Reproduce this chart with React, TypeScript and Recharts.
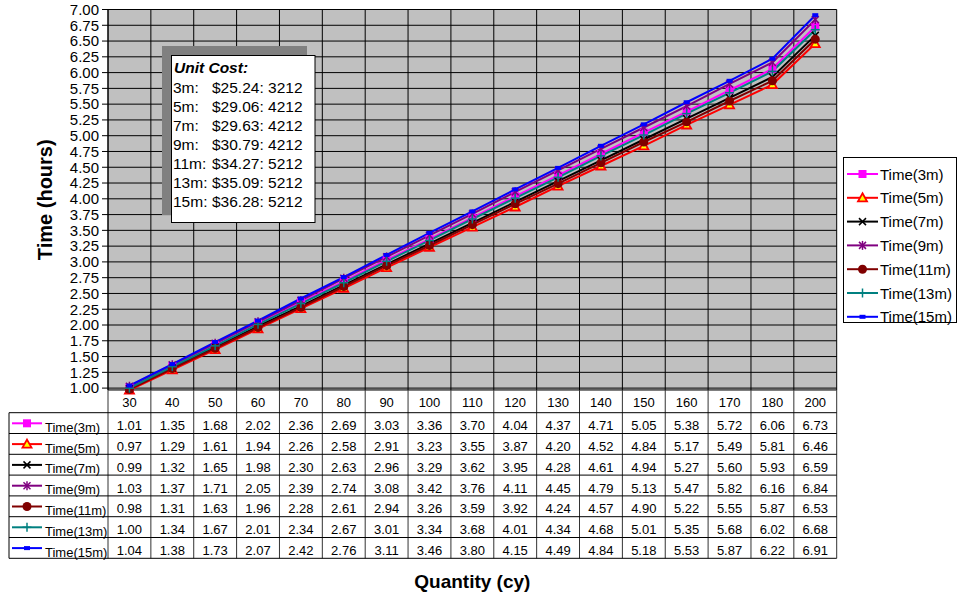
import React from 'react'
import {
  CartesianGrid, Line, LineChart, XAxis, YAxis,
} from 'recharts'

const categories = ['30', '40', '50', '60', '70', '80', '90', '100', '110', '120', '130', '140', '150', '160', '170', '180', '200']

const time3m = [1.01, 1.35, 1.68, 2.02, 2.36, 2.69, 3.03, 3.36, 3.70, 4.04, 4.37, 4.71, 5.05, 5.38, 5.72, 6.06, 6.73]
const time5m = [0.97, 1.29, 1.61, 1.94, 2.26, 2.58, 2.91, 3.23, 3.55, 3.87, 4.20, 4.52, 4.84, 5.17, 5.49, 5.81, 6.46]
const time7m = [0.99, 1.32, 1.65, 1.98, 2.30, 2.63, 2.96, 3.29, 3.62, 3.95, 4.28, 4.61, 4.94, 5.27, 5.60, 5.93, 6.59]
const time9m = [1.03, 1.37, 1.71, 2.05, 2.39, 2.74, 3.08, 3.42, 3.76, 4.11, 4.45, 4.79, 5.13, 5.47, 5.82, 6.16, 6.84]
const time11m = [0.98, 1.31, 1.63, 1.96, 2.28, 2.61, 2.94, 3.26, 3.59, 3.92, 4.24, 4.57, 4.90, 5.22, 5.55, 5.87, 6.53]
const time13m = [1.00, 1.34, 1.67, 2.01, 2.34, 2.67, 3.01, 3.34, 3.68, 4.01, 4.34, 4.68, 5.01, 5.35, 5.68, 6.02, 6.68]
const time15m = [1.04, 1.38, 1.73, 2.07, 2.42, 2.76, 3.11, 3.46, 3.80, 4.15, 4.49, 4.84, 5.18, 5.53, 5.87, 6.22, 6.91]

const yTicks = [1, 1.25, 1.5, 1.75, 2, 2.25, 2.5, 2.75, 3, 3.25, 3.5, 3.75, 4, 4.25, 4.5, 4.75, 5, 5.25, 5.5, 5.75, 6, 6.25, 6.5, 6.75, 7]

const unitCostLabels = ['3m:', '5m:', '7m:', '9m:', '11m:', '13m:', '15m:']
const unitCostValues = ['$25.24: 3212', '$29.06: 4212', '$29.63: 4212', '$30.79: 4212', '$34.27: 5212', '$35.09: 5212', '$36.28: 5212']

const series = [
  { key: 's3', name: 'Time(3m)', values: time3m, color: '#FF00FF', shape: 'square' },
  { key: 's5', name: 'Time(5m)', values: time5m, color: '#FF0000', shape: 'triangle' },
  { key: 's7', name: 'Time(7m)', values: time7m, color: '#000000', shape: 'x' },
  { key: 's9', name: 'Time(9m)', values: time9m, color: '#800080', shape: 'star' },
  { key: 's11', name: 'Time(11m)', values: time11m, color: '#800000', shape: 'circle' },
  { key: 's13', name: 'Time(13m)', values: time13m, color: '#008080', shape: 'plus' },
  { key: 's15', name: 'Time(15m)', values: time15m, color: '#0000FF', shape: 'dash' },
]

const data = categories.map((q, i) => {
  const row: any = { q }
  series.forEach(s => { row[s.key] = s.values[i] })
  return row
})

// layout
const W = 957
const H = 594
const PLOT_L = 108
const PLOT_R = 836.7
const PLOT_T = 9.5
const PLOT_B = 390
const COL_W = (PLOT_R - PLOT_L) / categories.length
const HEAD_B = 412.7
const ROW_H = 20.8
const TABLE_L = 9

function Marker({ shape, color, x, y }: { shape: string, color: string, x: number, y: number }) {
  switch (shape) {
    case 'square':
      return <rect x={x - 4} y={y - 4} width={8} height={8} fill={color} />
    case 'triangle':
      return <polygon points={`${x},${y - 4.5} ${x + 4.5},${y + 3.5} ${x - 4.5},${y + 3.5}`} fill='#FFFF00' stroke={color} strokeWidth={1.8} />
    case 'x':
      return (
        <g stroke={color} strokeWidth={1.5}>
          <line x1={x - 3.5} y1={y - 3.5} x2={x + 3.5} y2={y + 3.5} />
          <line x1={x - 3.5} y1={y + 3.5} x2={x + 3.5} y2={y - 3.5} />
        </g>
      )
    case 'star':
      return (
        <g stroke={color} strokeWidth={1.5}>
          <line x1={x - 3.5} y1={y - 3.5} x2={x + 3.5} y2={y + 3.5} />
          <line x1={x - 3.5} y1={y + 3.5} x2={x + 3.5} y2={y - 3.5} />
          <line x1={x} y1={y - 4.5} x2={x} y2={y + 4.5} />
        </g>
      )
    case 'circle':
      return <circle cx={x} cy={y} r={4.5} fill={color} />
    case 'plus':
      return (
        <g stroke={color} strokeWidth={1.5}>
          <line x1={x - 4.5} y1={y} x2={x + 4.5} y2={y} />
          <line x1={x} y1={y - 4.5} x2={x} y2={y + 4.5} />
        </g>
      )
    default:
      return <rect x={x - 3} y={y - 2} width={6} height={4} fill={color} />
  }
}

const dotFor = (shape: string, color: string) => (props: any) => (
  <g key={`${shape}-${props.index}`}>
    <Marker shape={shape} color={color} x={props.cx} y={props.cy} />
  </g>
)

const colX = (i: number) => PLOT_L + i * COL_W

function Overlay() {
  const font = "'Liberation Sans', Arial, sans-serif"
  const rowTop = (r: number) => HEAD_B + r * ROW_H
  const tableB = rowTop(series.length)
  return (
    <svg width={W} height={H} style={{ position: 'absolute', left: 0, top: 0, pointerEvents: 'none', fontFamily: font }}>
      {/* unit cost box */}
      <rect x={162} y={46} width={145} height={169} fill='#808080' />
      <rect x={171.5} y={55.5} width={143.5} height={167} fill='#FFFFFF' stroke='#000' strokeWidth={1} />
      <text x={174} y={73} fontSize={15.5} fontWeight='bold' fontStyle='italic'>Unit Cost:</text>
      {unitCostLabels.map((l, i) => (
        <g key={l} fontSize={15.5}>
          <text x={173} y={93 + i * 19}>{l}</text>
          <text x={212} y={93 + i * 19}>{unitCostValues[i]}</text>
        </g>
      ))}

      {/* header row of table */}
      {categories.map((c, i) => (
        <text key={c} x={colX(i) + COL_W / 2} y={407} fontSize={13} textAnchor='middle'>{c}</text>
      ))}
      {categories.concat(['end']).map((c, i) => (
        <line key={`hv${c}`} x1={colX(i)} x2={colX(i)} y1={PLOT_B} y2={tableB} stroke='#333' strokeWidth={1} />
      ))}
      <line x1={TABLE_L} x2={TABLE_L} y1={HEAD_B} y2={tableB} stroke='#000' />
      {series.map((s, r) => (
        <line key={`hl${s.key}`} x1={TABLE_L} x2={PLOT_R} y1={rowTop(r)} y2={rowTop(r)} stroke='#000' />
      ))}
      <line x1={TABLE_L} x2={PLOT_R} y1={tableB} y2={tableB} stroke='#000' />

      {series.map((s, r) => (
        <g key={`row${s.key}`}>
          <line x1={12} x2={42} y1={rowTop(r) + 10.6} y2={rowTop(r) + 10.6} stroke={s.color} strokeWidth={2} />
          <Marker shape={s.shape} color={s.color} x={27} y={rowTop(r) + 10.6} />
          <text x={45} y={rowTop(r) + 19} fontSize={13}>{s.name}</text>
          {s.values.map((v, i) => (
            <text key={i} x={colX(i) + COL_W / 2} y={rowTop(r) + 17.5} fontSize={13} textAnchor='middle'>{v.toFixed(2)}</text>
          ))}
        </g>
      ))}

      {/* legend */}
      <rect x={843.5} y={157.5} width={113} height={165} fill='#FFFFFF' stroke='#000' />
      {series.map((s, i) => (
        <g key={`lg${s.key}`}>
          <line x1={847} x2={878} y1={174 + i * 23.8} y2={174 + i * 23.8} stroke={s.color} strokeWidth={2} />
          <Marker shape={s.shape} color={s.color} x={862.5} y={174 + i * 23.8} />
          <text x={880} y={179.5 + i * 23.8} fontSize={15}>{s.name}</text>
        </g>
      ))}

      {/* axis titles */}
      <text x={0} y={0} transform={`translate(52, ${(PLOT_T + PLOT_B) / 2}) rotate(-90)`} textAnchor='middle' fontSize={20} fontWeight='bold'>Time (hours)</text>
      <text x={(PLOT_L + PLOT_R) / 2} y={588} textAnchor='middle' fontSize={19} fontWeight='bold'>Quantity (cy)</text>
    </svg>
  )
}

export default function App() {
  return (
    <div style={{
      position: 'absolute', left: 0, top: 0, width: W, height: H, background: '#fff',
      fontFamily: "'Liberation Sans', Arial, sans-serif",
    }}
    >
      <LineChart
        width={W}
        height={H}
        data={data}
        margin={{ top: PLOT_T, right: W - PLOT_R, left: 8, bottom: H - PLOT_B }}
      >
        <CartesianGrid
          stroke='#000'
          fill='#C0C0C0'
          fillOpacity={1}
          verticalCoordinatesGenerator={({ offset }: any) => categories.concat(['end']).map((_, i) => offset.left + i * (offset.width / categories.length))}
        />
        <XAxis dataKey='q' hide padding={{ left: COL_W / 2, right: COL_W / 2 }} />
        <YAxis
          width={100}
          domain={[1, 7]}
          ticks={yTicks}
          interval={0}
          tickFormatter={(v: number) => v.toFixed(2)}
          tick={{ fill: '#000', fontSize: 15 }}
          stroke='#000'
          tickSize={6}
          tickMargin={3}
        />
        {series.map(s => (
          <Line
            key={s.key}
            type='linear'
            dataKey={s.key}
            name={s.name}
            stroke={s.color}
            strokeWidth={2}
            dot={dotFor(s.shape, s.color)}
            isAnimationActive={false}
          />
        ))}
      </LineChart>
      <Overlay />
    </div>
  )
}
